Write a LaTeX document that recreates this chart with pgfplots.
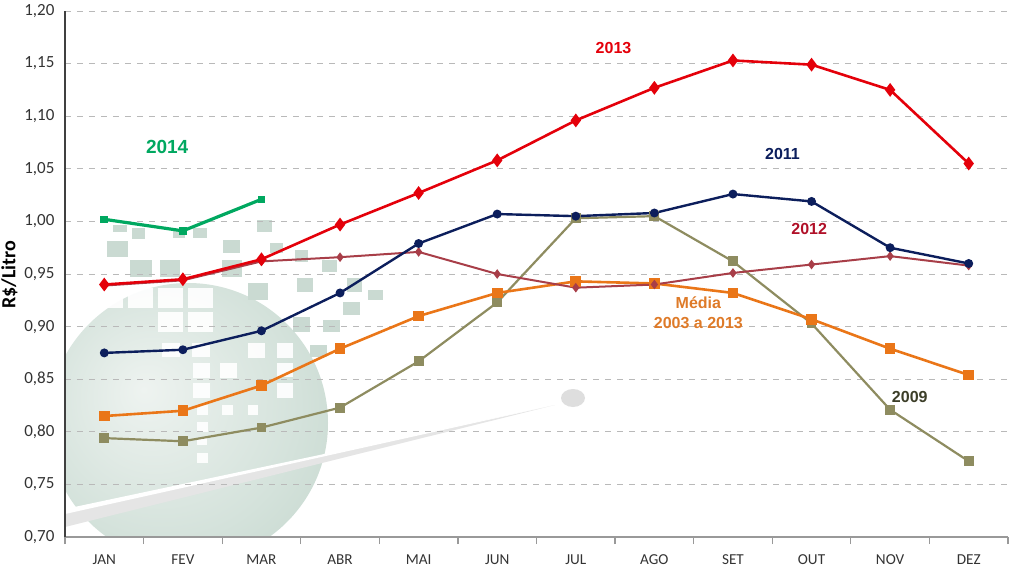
\documentclass[border=0pt]{standalone}
\usepackage{fontspec}
\setmainfont{Carlito}
\newfontfamily\arialf{Liberation Sans}
\usepackage{pgfplots}
\pgfplotsset{compat=1.18}
\definecolor{c2013}{RGB}{228,0,10}
\definecolor{c2014}{RGB}{0,168,96}
\definecolor{c2012}{RGB}{168,62,72}
\definecolor{c2011}{RGB}{12,30,92}
\definecolor{cmed}{RGB}{234,118,24}
\definecolor{c2009}{RGB}{142,140,96}
\definecolor{t2012}{RGB}{176,16,40}
\definecolor{tmed}{RGB}{222,122,40}
\definecolor{t2009}{RGB}{60,62,40}
\definecolor{circin}{RGB}{238,243,240}
\definecolor{circmid}{RGB}{212,226,219}
\definecolor{circout}{RGB}{182,204,192}
\pgfdeclareradialshading{circshade}{\pgfpoint{-8bp}{6bp}}{color(0bp)=(circin); color(24bp)=(circmid); color(50bp)=(circout)}
\definecolor{sqg}{RGB}{202,218,210}
\newcommand\gsq[4]{\fill[sqg] (#1,#2) rectangle (#3,#4);}
\newcommand\wsq[4]{\fill[white, opacity=0.92] (#1,#2) rectangle (#3,#4);}
\begin{document}
\begin{tikzpicture}
\path[use as bounding box] (-32.5pt,-18.5pt) rectangle (479pt,268.5pt);
% background decoration, coordinates in reference pixels
\begin{scope}[x=0.5pt, y=-0.5pt, shift={(-32.5pt,268.5pt)}]
  \clip (65,11) rectangle (1008,537);
  \shade[shading=circshade] (188,423) circle[radius=70pt];
  \fill[gray!20] (65,512) -- (555,405) -- (65,527) -- cycle;
  \fill[gray!26] (573,398) ellipse[x radius=6pt, y radius=4.5pt];
  % green squares
  \gsq{107}{241}{128}{257} \gsq{130}{260}{152}{277} \gsq{160}{260}{180}{277}
  \gsq{113}{225}{127}{232} \gsq{132}{228}{145}{239} \gsq{193}{228}{207}{238}
  \gsq{173}{230}{185}{238} \gsq{223}{240}{240}{253} \gsq{257}{220}{272}{232}
  \gsq{270}{243}{283}{253} \gsq{222}{260}{242}{277} \gsq{248}{283}{268}{300}
  \gsq{295}{250}{308}{262} \gsq{322}{260}{337}{272} \gsq{297}{278}{313}{292}
  \gsq{347}{278}{362}{292} \gsq{368}{290}{383}{300} \gsq{343}{302}{360}{315}
  \gsq{293}{317}{310}{332} \gsq{323}{320}{340}{332} \gsq{310}{345}{327}{357}
  % white squares
  \wsq{98}{288}{123}{308} \wsq{128}{288}{153}{308} \wsq{158}{288}{183}{308}
  \wsq{188}{288}{213}{308} \wsq{158}{312}{183}{332} \wsq{188}{312}{213}{332}
  \wsq{162}{343}{180}{357} \wsq{192}{343}{210}{357} \wsq{193}{363}{210}{378}
  \wsq{220}{363}{237}{378} \wsq{193}{383}{210}{398} \wsq{248}{343}{265}{358}
  \wsq{277}{343}{293}{358} \wsq{277}{363}{293}{377} \wsq{277}{383}{293}{398}
  \wsq{222}{405}{233}{415} \wsq{248}{405}{258}{415} \wsq{197}{405}{208}{415}
  \wsq{197}{422}{208}{432} \wsq{197}{438}{207}{445} \wsq{197}{453}{208}{463}
  \fill[white] (65,509) -- (555,405) -- (65,514) -- cycle;
\end{scope}
\begin{axis}[
  scale only axis, width=471.5pt, height=263pt,
  anchor=south west, at={(0pt,0pt)},
  xmin=-0.5, xmax=11.5, ymin=0.70, ymax=1.20,
  xtick={0,1,2,3,4,5,6,7,8,9,10,11},
  xticklabels={JAN,FEV,MAR,ABR,MAI,JUN,JUL,AGO,SET,OUT,NOV,DEZ},
  minor xtick={-0.5,0.5,1.5,2.5,3.5,4.5,5.5,6.5,7.5,8.5,9.5,10.5,11.5},
  ytick={0.70,0.75,0.80,0.85,0.90,0.95,1.00,1.05,1.10,1.15,1.20},
  axis x line*=bottom, axis y line*=left,
  x axis line style={-, draw=gray!80, line width=0.6pt},
  y axis line style={-, draw=black!75, line width=0.6pt},
  major x tick style={draw=none},
  ytick style={draw=none},
  minor x tick style={draw=gray!80, line width=0.6pt},
  minor tick length=3.5pt,
  tick align=outside,
  ymajorgrids,
  grid style={dashed, gray!55, line width=0.4pt},
  /pgf/number format/.cd, fixed, fixed zerofill, precision=2, use comma, assume math mode=true,
  /pgfplots/.cd,
  yticklabel style={font=\fontsize{8.5}{10}\selectfont, color=black!80, xshift=2.5pt},
  xticklabel style={font=\fontsize{7.6}{9}\selectfont, color=black!80, yshift=-1pt},
  ylabel={\bfseries R\$/Litro},
  ylabel style={font=\fontsize{8}{9}\selectfont},
  every axis y label/.style={at={(rel axis cs:0,0.499)}, xshift=-27.75pt, rotate=90, anchor=center},
  clip=true,
]
% 2009
\addplot[color=c2009, line width=1.1pt, mark=square*, mark size=1.9pt, mark options={fill=c2009}]
coordinates {(0,0.794) (1,0.791) (2,0.804) (3,0.823) (4,0.867) (5,0.923) (6,1.003) (7,1.005) (8,0.962) (9,0.903) (10,0.821) (11,0.772)};
% Media
\addplot[color=cmed, line width=1.3pt, mark=square*, mark size=2pt, mark options={fill=cmed}]
coordinates {(0,0.815) (1,0.820) (2,0.844) (3,0.879) (4,0.910) (5,0.932) (6,0.943) (7,0.941) (8,0.932) (9,0.907) (10,0.879) (11,0.854)};
% 2012
\addplot[color=c2012, line width=1.0pt, mark=diamond*, mark size=1.6pt, mark options={fill=c2012}]
coordinates {(0,0.939) (1,0.944) (2,0.962) (3,0.966) (4,0.971) (5,0.950) (6,0.937) (7,0.940) (8,0.951) (9,0.959) (10,0.967) (11,0.958)};
% 2011
\addplot[color=c2011, line width=1.2pt, mark=*, mark size=1.6pt, mark options={fill=c2011}]
coordinates {(0,0.875) (1,0.878) (2,0.896) (3,0.932) (4,0.979) (5,1.007) (6,1.005) (7,1.008) (8,1.026) (9,1.019) (10,0.975) (11,0.960)};
% 2013
\addplot[color=c2013, line width=1.3pt, mark=diamond*, mark size=2.4pt, mark options={fill=c2013}]
coordinates {(0,0.940) (1,0.945) (2,0.964) (3,0.997) (4,1.027) (5,1.058) (6,1.096) (7,1.127) (8,1.153) (9,1.149) (10,1.125) (11,1.055)};
% 2014
\addplot[color=c2014, line width=1.6pt, mark=square*, mark size=1.1pt, mark options={fill=c2014}]
coordinates {(0,1.002) (1,0.991) (2,1.021)};

\node[font=\arialf\bfseries\fontsize{8}{9}\selectfont, text=c2013] at (axis cs:6.48,1.165) {2013};
\node[font=\arialf\bfseries\fontsize{9.5}{11}\selectfont, text=c2014] at (axis cs:0.80,1.071) {2014};
\node[font=\arialf\bfseries\fontsize{8}{9}\selectfont, text=c2011] at (axis cs:8.63,1.064) {2011};
\node[font=\arialf\bfseries\fontsize{8}{9}\selectfont, text=t2012] at (axis cs:8.97,0.993) {2012};
\node[font=\arialf\bfseries\fontsize{8}{9.8}\selectfont, text=tmed, align=center] at (axis cs:7.56,0.913) {Média\\2003 a 2013};
\node[font=\arialf\bfseries\fontsize{8}{9}\selectfont, text=t2009] at (axis cs:10.25,0.833) {2009};
\end{axis}
\end{tikzpicture}
\end{document}
